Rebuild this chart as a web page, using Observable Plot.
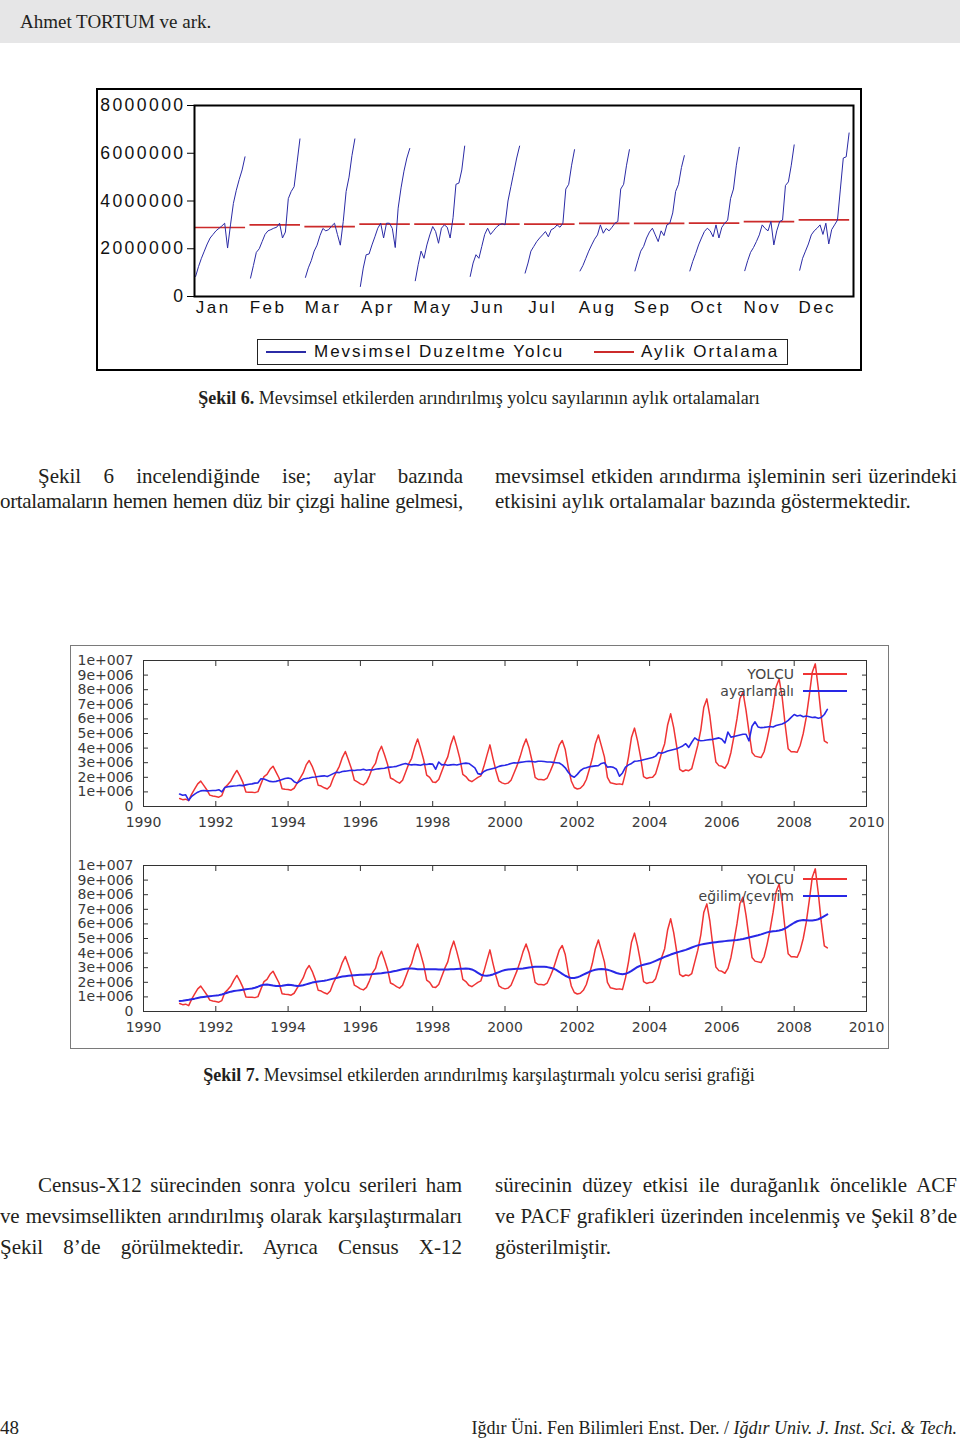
<!DOCTYPE html>
<html><head><meta charset="utf-8">
<script src="https://cdn.jsdelivr.net/npm/d3@7"></script>
<script src="https://cdn.jsdelivr.net/npm/@observablehq/plot@0.6"></script>
<style>
html,body{margin:0;padding:0;background:#fff;}
#page{position:relative;width:960px;height:1440px;overflow:hidden;font-family:"Liberation Serif","Times New Roman",serif;color:#231f20;}
.abs{position:absolute;}
.line{position:absolute;white-space:nowrap;font-size:21px;line-height:25px;height:25px;letter-spacing:0;}
.j{text-align:justify;text-align-last:justify;}
.cap{position:absolute;left:0;width:958px;text-align:center;font-size:18px;line-height:24px;letter-spacing:0;white-space:nowrap;}
.lg6{position:absolute;top:0;line-height:25px;font-family:"Liberation Sans",Arial,sans-serif;font-size:17px;letter-spacing:2px;color:#111;white-space:nowrap;}
.lg7{position:absolute;font-family:"DejaVu Sans",Verdana,sans-serif;font-size:14px;color:#444;white-space:nowrap;text-align:right;width:140px;line-height:16px;}
</style></head>
<body><div id="page">
<div class="abs" style="left:0;top:0;width:960px;height:43px;background:#e6e6e7;"></div>
<div class="abs" style="left:20px;top:9px;font-size:19px;line-height:26px;">Ahmet TORTUM ve ark.</div>

<!-- Figure 6 -->
<div id="fig6" class="abs" style="left:96px;top:88px;"></div>
<div class="abs" style="left:96px;top:88px;width:766px;height:283px;border:2px solid #000;box-sizing:border-box;pointer-events:none;"></div>
<div id="legend6" class="abs" style="left:257px;top:339px;width:531px;height:26px;border:1.5px solid #222;box-sizing:border-box;"></div>
<div class="cap" style="top:386px;"><b>Şekil 6.</b> Mevsimsel etkilerden arındırılmış yolcu sayılarının aylık ortalamaları</div>

<div class="line j" style="left:0;top:464px;width:425px;padding-left:38px;">Şekil 6 incelendiğinde ise; aylar bazında</div>
<div class="line j" style="left:0;top:489px;width:463px;letter-spacing:-0.35px;word-spacing:-1px;">ortalamaların hemen hemen düz bir çizgi haline gelmesi,</div>
<div class="line j" style="left:495px;top:464px;width:462px;">mevsimsel etkiden arındırma işleminin seri üzerindeki</div>
<div class="line" style="left:495px;top:489px;">etkisini aylık ortalamalar bazında göstermektedir.</div>

<!-- Figure 7 -->
<div class="abs" style="left:70px;top:645px;width:819px;height:404px;border:1px solid #7a7a7a;box-sizing:border-box;"></div>
<div id="fig7a" class="abs" style="left:70px;top:645px;"></div>
<div id="fig7b" class="abs" style="left:70px;top:850px;"></div>
<div id="legend7a"></div>
<div id="legend7b"></div>
<div class="cap" style="top:1063px;"><b>Şekil 7.</b> Mevsimsel etkilerden arındırılmış karşılaştırmalı yolcu serisi grafiği</div>

<div class="line j" style="left:0;top:1173px;width:424px;padding-left:38px;">Census-X12 sürecinden sonra yolcu serileri ham</div>
<div class="line j" style="left:0;top:1204px;width:462px;letter-spacing:-0.15px;word-spacing:-0.5px;">ve mevsimsellikten arındırılmış olarak karşılaştırmaları</div>
<div class="line j" style="left:0;top:1235px;width:462px;">Şekil 8’de görülmektedir. Ayrıca Census X-12</div>
<div class="line j" style="left:495px;top:1173px;width:462px;">sürecinin düzey etkisi ile durağanlık öncelikle ACF</div>
<div class="line j" style="left:495px;top:1204px;width:462px;">ve PACF grafikleri üzerinden incelenmiş ve Şekil 8’de</div>
<div class="line" style="left:495px;top:1235px;">gösterilmiştir.</div>

<div class="abs" style="left:0;top:1416px;font-size:19px;line-height:24px;">48</div>
<div class="abs" style="left:300px;width:657px;top:1416px;font-size:18px;line-height:24px;text-align:right;white-space:nowrap;">Iğdır Üni. Fen Bilimleri Enst. Der. / <i>Iğdır Univ. J. Inst. Sci. &amp; Tech.</i></div>
</div>

<script>
// ---------- DATA ----------
const months = ["Jan","Feb","Mar","Apr","May","Jun","Jul","Aug","Sep","Oct","Nov","Dec"];
const years = [1991,1992,1993,1994,1995,1996,1997,1998,1999,2000,2001,2002,2003,2004,2005,2006,2007,2008];

// Şekil 6: seasonally adjusted passengers (millions), one row per month, 1991..2008
const duzeltmeByMonth = [
  [0.84,1.25,1.60,1.90,2.20,2.45,2.60,2.75,2.85,2.95,3.07,2.03,3.00,3.90,4.45,4.90,5.30,5.85],
  [0.77,1.30,1.85,2.00,2.30,2.60,2.75,2.80,2.86,2.90,3.07,2.45,2.70,4.10,4.40,4.60,5.60,6.60],
  [0.80,1.20,1.50,1.90,2.15,2.55,2.85,2.75,2.80,2.95,3.07,2.60,2.15,3.14,4.40,5.00,5.90,6.60],
  [0.42,1.19,1.75,1.78,2.16,2.50,2.86,3.07,2.45,3.07,3.07,2.85,2.05,3.70,4.55,5.25,5.80,6.20],
  [0.66,1.33,1.90,1.60,2.16,2.58,2.93,2.72,2.23,2.86,3.00,2.90,2.45,3.30,4.70,4.75,5.30,6.30],
  [0.84,1.40,1.75,1.60,2.10,2.60,2.86,2.60,2.75,2.90,3.00,3.05,3.00,4.00,4.60,5.20,5.80,6.30],
  [0.98,1.40,1.90,2.10,2.30,2.45,2.58,2.72,2.50,2.80,2.86,3.00,2.90,3.07,4.50,4.70,5.50,6.15],
  [1.07,1.30,1.60,1.90,2.16,2.40,2.58,3.00,2.65,2.85,2.75,2.90,3.07,3.14,4.50,4.70,5.50,6.15],
  [1.07,1.50,1.90,2.10,2.45,2.70,2.86,2.58,2.30,2.75,2.55,3.00,3.07,3.50,4.40,4.70,5.40,5.90],
  [1.07,1.47,1.80,2.16,2.45,2.72,2.86,2.75,2.50,3.00,2.45,2.90,3.07,3.20,4.10,4.50,5.50,6.25],
  [1.08,1.50,1.85,2.05,2.30,2.58,3.00,2.85,2.75,3.14,2.16,2.75,3.14,3.20,4.65,4.80,5.50,6.35],
  [1.10,1.60,1.90,2.20,2.58,2.75,2.86,3.00,2.60,3.07,2.20,2.80,3.00,3.20,4.50,5.80,5.85,6.85]
];
// Şekil 6: monthly averages (millions)
const aylikOrtalama = [2.89,3.00,2.93,3.03,3.03,3.03,3.03,3.06,3.06,3.07,3.14,3.21];
const f6YTicks = [0,2,4,6,8];
const f6YLabels = ["0","2000000","4000000","6000000","8000000"];

// Şekil 7: raw passengers YOLCU (millions), one row per year, Jan..Dec
const yolcu = [
  [0.55,0.47,0.50,0.40,0.85,1.20,1.55,1.74,1.45,1.15,0.78,0.72],
  [0.68,0.64,0.75,1.30,1.50,1.75,2.15,2.47,2.10,1.65,1.00,0.97],
  [0.98,0.95,1.02,1.55,2.05,2.20,2.55,2.76,2.35,1.95,1.22,1.18],
  [1.16,1.12,1.25,1.60,1.95,2.30,2.85,3.15,2.75,2.20,1.45,1.40],
  [1.28,1.20,1.40,1.95,2.35,2.75,3.35,3.77,3.20,2.60,1.80,1.68],
  [1.55,1.48,1.65,2.10,2.65,2.95,3.70,4.13,3.55,2.90,1.95,1.85],
  [1.70,1.60,1.80,2.35,2.90,3.30,4.05,4.63,3.95,3.20,2.15,2.00],
  [1.68,1.65,1.85,2.40,2.95,3.40,4.25,4.82,4.10,3.30,2.20,2.05],
  [1.80,1.70,1.85,2.00,2.10,2.75,3.50,4.22,3.30,2.45,1.75,1.62],
  [1.55,1.60,1.80,2.30,2.80,3.40,4.10,4.63,4.00,3.10,2.00,1.85],
  [1.85,1.82,1.95,2.40,2.90,3.55,4.20,4.52,3.90,2.70,1.75,1.30],
  [1.20,1.25,1.45,1.85,2.55,3.30,4.30,4.90,4.15,3.40,2.00,1.62],
  [1.58,1.52,1.55,1.50,2.30,3.40,4.75,5.37,4.50,3.40,2.05,1.92],
  [1.98,2.00,2.25,2.95,3.70,4.30,5.60,6.35,5.40,4.10,2.55,2.40],
  [2.50,2.45,2.60,3.40,4.20,5.25,6.80,7.37,6.20,4.50,3.05,2.80],
  [2.75,2.62,2.95,3.70,4.80,6.00,7.40,7.83,6.60,5.10,3.70,3.45],
  [3.40,3.35,3.75,4.60,5.60,6.80,8.20,8.74,7.50,5.60,3.95,3.75],
  [3.75,3.72,4.20,5.00,6.10,7.60,9.20,9.77,8.10,6.10,4.50,4.36]
];
// seasonally adjusted (ayarlamalı), millions
const ayarlamali = [
  [0.85,0.77,0.80,0.42,0.70,0.85,0.98,1.07,1.10,1.07,1.08,1.10],
  [1.10,1.15,1.00,1.30,1.35,1.38,1.40,1.42,1.45,1.43,1.48,1.52],
  [1.55,1.60,1.62,1.90,1.88,1.80,1.72,1.70,1.72,1.78,1.85,1.92],
  [1.95,1.90,1.70,1.60,1.75,1.88,1.92,1.95,2.00,2.02,2.05,2.08],
  [2.10,2.05,2.15,2.25,2.35,2.32,2.40,2.42,2.45,2.48,2.47,2.50],
  [2.50,2.55,2.48,2.52,2.50,2.55,2.58,2.60,2.62,2.68,2.70,2.72],
  [2.75,2.82,2.90,2.95,2.88,2.85,2.88,2.85,2.82,2.90,2.88,2.92],
  [2.90,2.55,3.05,2.85,2.88,2.82,2.85,2.88,2.84,2.90,2.95,2.97],
  [2.95,2.80,2.65,2.25,2.20,2.40,2.50,2.55,2.60,2.65,2.75,2.80],
  [2.82,2.88,2.95,3.00,2.98,3.02,3.05,3.08,3.10,3.08,3.05,3.10],
  [3.10,3.08,3.05,3.05,3.02,3.00,2.98,2.85,2.65,2.35,2.10,2.00],
  [2.20,2.45,2.60,2.65,2.72,2.75,2.78,2.80,2.95,3.00,2.70,2.72],
  [2.68,2.55,2.07,2.30,2.70,2.85,2.95,3.10,3.12,3.15,3.20,3.25],
  [3.30,3.35,3.45,3.70,3.65,3.72,3.80,3.85,3.90,3.95,4.05,4.15],
  [4.30,4.05,4.40,4.70,4.55,4.50,4.52,4.55,4.58,4.60,4.65,4.70],
  [4.60,4.35,5.10,4.75,4.80,4.85,4.90,4.95,4.95,4.50,5.50,5.80],
  [5.45,5.40,5.42,5.45,5.48,5.45,5.55,5.60,5.65,5.75,5.90,6.10],
  [6.30,6.20,6.25,6.15,6.20,6.15,6.10,6.12,6.05,6.10,6.30,6.65]
];
// trend/cycle (eğilim/çevrim), millions
const egilimCevrim = [
  [0.72,0.74,0.77,0.80,0.84,0.88,0.93,0.97,1.00,1.03,1.05,1.07],
  [1.09,1.12,1.17,1.23,1.30,1.36,1.40,1.43,1.46,1.49,1.52,1.55],
  [1.58,1.63,1.70,1.78,1.84,1.85,1.82,1.78,1.75,1.75,1.77,1.80],
  [1.83,1.82,1.78,1.75,1.76,1.80,1.86,1.92,1.98,2.02,2.05,2.08],
  [2.11,2.15,2.20,2.25,2.30,2.35,2.39,2.42,2.45,2.47,2.49,2.50],
  [2.51,2.52,2.53,2.54,2.56,2.58,2.60,2.62,2.65,2.68,2.71,2.75],
  [2.79,2.84,2.89,2.93,2.95,2.94,2.92,2.90,2.89,2.89,2.90,2.90],
  [2.90,2.89,2.88,2.88,2.88,2.88,2.89,2.90,2.91,2.92,2.93,2.94],
  [2.93,2.88,2.78,2.65,2.52,2.46,2.45,2.48,2.54,2.62,2.70,2.78],
  [2.84,2.88,2.90,2.91,2.92,2.93,2.95,2.98,3.01,3.04,3.06,3.07],
  [3.07,3.06,3.04,3.00,2.95,2.85,2.72,2.58,2.45,2.35,2.30,2.30],
  [2.34,2.42,2.52,2.62,2.72,2.80,2.86,2.90,2.91,2.90,2.86,2.80],
  [2.72,2.64,2.58,2.55,2.58,2.66,2.78,2.92,3.05,3.14,3.20,3.25],
  [3.30,3.38,3.47,3.56,3.65,3.74,3.82,3.90,3.97,4.04,4.10,4.16],
  [4.22,4.30,4.38,4.46,4.53,4.58,4.62,4.66,4.69,4.72,4.75,4.78],
  [4.80,4.82,4.84,4.86,4.88,4.90,4.93,4.97,5.02,5.07,5.12,5.17],
  [5.22,5.28,5.35,5.42,5.47,5.50,5.52,5.55,5.60,5.70,5.82,5.95],
  [6.08,6.18,6.24,6.26,6.25,6.24,6.24,6.26,6.32,6.42,6.54,6.65]
];
const f7XTicks = [1990,1992,1994,1996,1998,2000,2002,2004,2006,2008,2010];
const f7YTicks = [0,1,2,3,4,5,6,7,8,9,10];
const f7YLabels = ["0","1e+006","2e+006","3e+006","4e+006","5e+006","6e+006","7e+006","8e+006","9e+006","1e+007"];
const legend6 = [
  {label: "Mevsimsel Duzeltme Yolcu", color: "#2b2ba6"},
  {label: "Aylik Ortalama", color: "#cc2b2b"}
];

// ---------- FIGURE 6 ----------
const f6rows = [];
duzeltmeByMonth.forEach((vals, m) => vals.forEach((v, i) =>
  f6rows.push({m, v, x: m + 0.02 + 0.9 * i / (vals.length - 1)})));
const f6means = aylikOrtalama.map((v, m) => ({v, x1: m + 0.01, x2: m + 0.93}));
const monthTicks = months.map((_, m) => m + 0.34);

const fig6 = Plot.plot({
  width: 766, height: 240,
  marginLeft: 98, marginRight: 9, marginTop: 17, marginBottom: 32,
  x: {domain: [0, 12]},
  y: {domain: [0, 8]},
  style: {fontFamily: "'Liberation Sans', Arial, sans-serif", fontSize: "17px", letterSpacing: "2.4px", color: "#111", background: "transparent", overflow: "visible"},
  marks: [
    Plot.ruleY(f6means, {y: "v", x1: "x1", x2: "x2", stroke: "#cc2b2b", strokeWidth: 1.7}),
    Plot.line(f6rows, {x: "x", y: "v", z: "m", stroke: "#2b2ba6", strokeWidth: 1}),
    Plot.axisY(f6YTicks, {anchor: "left", tickSize: 7, tickPadding: 2, label: null, stroke: "#000", fontSize: 17.6,
      tickFormat: d => f6YLabels[f6YTicks.indexOf(d)]}),
    Plot.axisX(monthTicks, {anchor: "bottom", tickSize: 0, tickPadding: 4, label: null,
      tickFormat: d => months[Math.round(d - 0.34)]}),
    Plot.frame({stroke: "#000", strokeWidth: 2})
  ]
});
document.getElementById("fig6").appendChild(fig6);

// legend 6
(function(){
  const box = document.getElementById("legend6");
  const pos = [{line: 8, text: 56}, {line: 336, text: 383}];
  legend6.forEach((d, i) => {
    const ln = document.createElement("div");
    ln.style.cssText = `position:absolute;left:${pos[i].line}px;top:11px;width:40px;height:2px;background:${d.color};`;
    box.appendChild(ln);
    const tx = document.createElement("div");
    tx.className = "lg6";
    tx.style.left = pos[i].text + "px";
    tx.style.top = "-1px";
    tx.textContent = d.label;
    box.appendChild(tx);
  });
})();

// ---------- FIGURE 7 ----------
const rows7 = [];
years.forEach((y, yi) => months.forEach((_, mi) => rows7.push({
  t: y + mi / 12, yolcu: yolcu[yi][mi], ayarlamali: ayarlamali[yi][mi], egilim: egilimCevrim[yi][mi]
})));

function panel(key, color, sw) {
  return Plot.plot({
    width: 818, height: 195,
    marginLeft: 73, marginRight: 22, marginTop: 15, marginBottom: 34,
    x: {domain: [1990, 2010]},
    y: {domain: [0, 10]},
    style: {fontFamily: "'DejaVu Sans', Verdana, sans-serif", fontSize: "14px", color: "#3a3a3a", background: "transparent", overflow: "visible"},
    marks: [
      Plot.line(rows7, {x: "t", y: "yolcu", stroke: "#ef3434", strokeWidth: 1.5}),
      Plot.line(rows7, {x: "t", y: key, stroke: color, strokeWidth: sw}),
      Plot.axisY(f7YTicks, {anchor: "left", tickSize: -5, tickPadding: 15, label: null, stroke: "#333",
        tickFormat: d => f7YLabels[f7YTicks.indexOf(d)]}),
      Plot.axisY(f7YTicks, {anchor: "right", tickSize: -5, label: null, stroke: "#333", tickFormat: () => ""}),
      Plot.axisX(f7XTicks, {anchor: "bottom", tickSize: -5, tickPadding: 16, label: null, stroke: "#333",
        tickFormat: d => String(d)}),
      Plot.axisX(f7XTicks, {anchor: "top", tickSize: -5, label: null, stroke: "#333", tickFormat: () => ""}),
      Plot.frame({stroke: "#333"})
    ]
  });
}
document.getElementById("fig7a").appendChild(panel("ayarlamali", "#2828e6", 1.6));
document.getElementById("fig7b").appendChild(panel("egilim", "#2828e6", 2));

function legend7(id, top, items) {
  const host = document.getElementById(id);
  items.forEach((d, i) => {
    const y = top + i * 17;
    const tx = document.createElement("div");
    tx.className = "lg7";
    tx.style.left = (794 - 140) + "px";
    tx.style.top = (y - 8) + "px";
    tx.textContent = d.label;
    host.appendChild(tx);
    const ln = document.createElement("div");
    ln.style.cssText = `position:absolute;left:803px;top:${y - 1}px;width:44px;height:${d.w}px;background:${d.color};`;
    host.appendChild(ln);
  });
}
legend7("legend7a", 674, [{label: "YOLCU", color: "#ef3434", w: 2}, {label: "ayarlamalı", color: "#2828e6", w: 2}]);
legend7("legend7b", 879, [{label: "YOLCU", color: "#ef3434", w: 2}, {label: "eğilim/çevrim", color: "#2828e6", w: 2}]);
</script>
</body></html>
